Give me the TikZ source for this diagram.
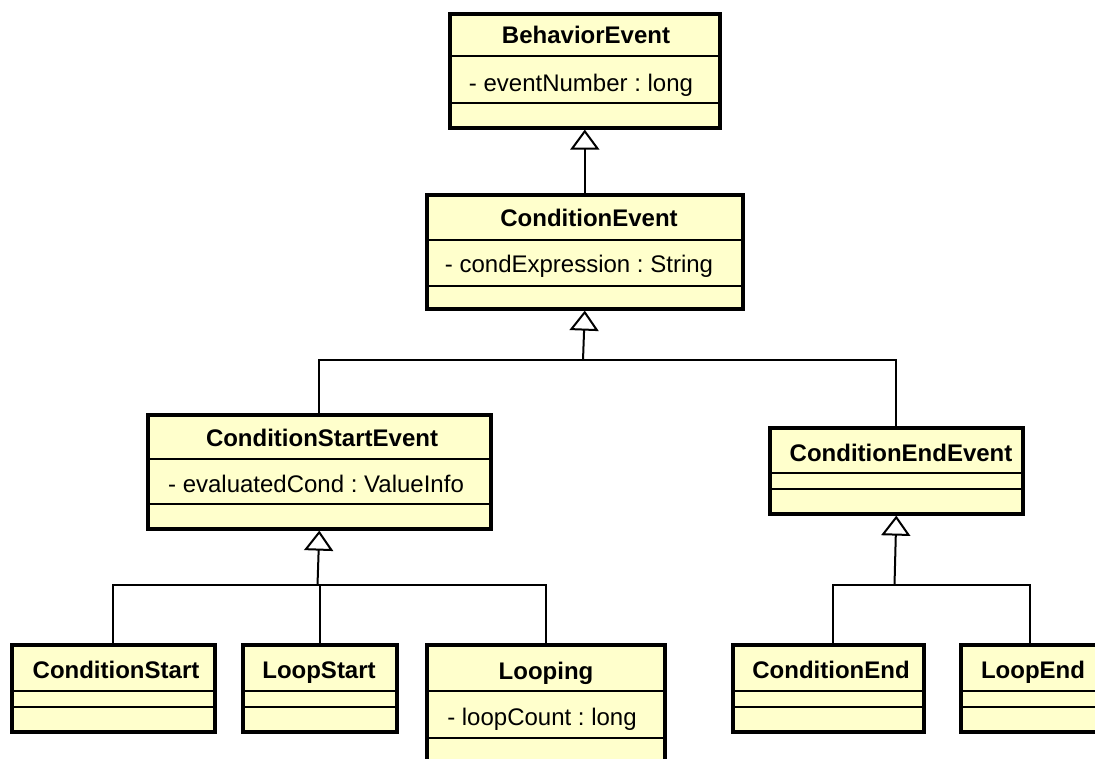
\documentclass[tikz,border=0pt]{standalone}
\usepackage{fontspec}
\setmainfont{Liberation Sans}
\usetikzlibrary{arrows.meta}
\definecolor{classfill}{HTML}{FFFFCC}
\frenchspacing
\begin{document}
\begin{tikzpicture}[x=1pt,y=-1pt,
  classbox/.style={draw=black, line width=3.6pt, fill=classfill, rectangle,
    inner sep=0pt, anchor=north west},
  divider/.style={draw=black, line width=2pt},
  nametext/.style={anchor=base, inner sep=0pt, font=\fontsize{24}{28}\selectfont\bfseries},
  attrtext/.style={anchor=base, inner sep=0pt, font=\fontsize{24}{28}\selectfont},
  link/.style={draw=black, line width=2pt},
  gen/.style={link, -{Triangle[open, length=20pt, width=29pt, fill=white]}}
]
\useasboundingbox (0,0) rectangle (1095,759);
\clip (0,0) rectangle (1095,759);

% ---- class boxes ----
\node[classbox, minimum width=270pt, minimum height=114pt] (be) at (448,12) {};
\draw[divider] (be.west |- 0,56) -- (be.east |- 0,56);
\draw[divider] (be.west |- 0,103) -- (be.east |- 0,103);
\node[nametext] (be-name) at (586,44) {BehaviorEvent};
\node[attrtext] (be-attr) at (581,92) {- eventNumber : long};

\node[classbox, minimum width=316pt, minimum height=114pt] (ce) at (425,193) {};
\draw[divider] (ce.west |- 0,240) -- (ce.east |- 0,240);
\draw[divider] (ce.west |- 0,286) -- (ce.east |- 0,286);
\node[nametext] (ce-name) at (589,227) {ConditionEvent};
\node[attrtext] (ce-attr) at (579,273) {- condExpression : String};

\node[classbox, minimum width=343pt, minimum height=114pt] (cse) at (146,413) {};
\draw[divider] (cse.west |- 0,459) -- (cse.east |- 0,459);
\draw[divider] (cse.west |- 0,504) -- (cse.east |- 0,504);
\node[nametext] (cse-name) at (322,446) {ConditionStartEvent};
\node[attrtext] (cse-attr) at (316,492) {- evaluatedCond : ValueInfo};

\node[classbox, minimum width=253pt, minimum height=86pt] (cee) at (768,426) {};
\draw[divider] (cee.west |- 0,473) -- (cee.east |- 0,473);
\draw[divider] (cee.west |- 0,489) -- (cee.east |- 0,489);
\node[nametext] (cee-name) at (901,461) {ConditionEndEvent};

\node[classbox, minimum width=203pt, minimum height=87pt] (cs) at (10,643) {};
\draw[divider] (cs.west |- 0,691) -- (cs.east |- 0,691);
\draw[divider] (cs.west |- 0,707) -- (cs.east |- 0,707);
\node[nametext] (cs-name) at (116,678) {ConditionStart};

\node[classbox, minimum width=154pt, minimum height=87pt] (ls) at (241,643) {};
\draw[divider] (ls.west |- 0,691) -- (ls.east |- 0,691);
\draw[divider] (ls.west |- 0,707) -- (ls.east |- 0,707);
\node[nametext] (ls-name) at (319,678) {LoopStart};

\node[classbox, minimum width=238pt, minimum height=150pt] (lp) at (425,643) {};
\draw[divider] (lp.west |- 0,691) -- (lp.east |- 0,691);
\draw[divider] (lp.west |- 0,738) -- (lp.east |- 0,738);
\node[nametext] (lp-name) at (546,679) {Looping};
\node[attrtext] (lp-attr) at (542,725) {- loopCount : long};

\node[classbox, minimum width=191pt, minimum height=87pt] (cend) at (731,643) {};
\draw[divider] (cend.west |- 0,691) -- (cend.east |- 0,691);
\draw[divider] (cend.west |- 0,707) -- (cend.east |- 0,707);
\node[nametext] (cend-name) at (831,678) {ConditionEnd};

\node[classbox, minimum width=170pt, minimum height=87pt] (le) at (959,643) {};
\draw[divider] (le.west |- 0,691) -- (le.east |- 0,691);
\draw[divider] (le.west |- 0,707) -- (le.east |- 0,707);
\node[nametext] (le-name) at (1033,678) {LoopEnd};

% ---- generalisation connectors ----
\coordinate (j1) at (583,360);
\coordinate (j2) at (317.5,585);
\coordinate (j3) at (894.5,585);

\draw[gen] (ce.north) -- (be.south);

\draw[gen] (j1) -- (ce.south);
\draw[link] (cse.north) |- (j1) -| (cee.north);

\draw[gen] (j2) -- (cse.south);
\draw[link] ([xshift=103pt]cs.north west) |- (j2) -| (lp.north);
\draw[link] (ls.north) -- (ls.north |- j2);

\draw[gen] (j3) -- (cee.south);
\draw[link] ([xshift=102pt]cend.north west) |- (j3) -| ([xshift=71pt]le.north west);
\end{tikzpicture}
\end{document}
